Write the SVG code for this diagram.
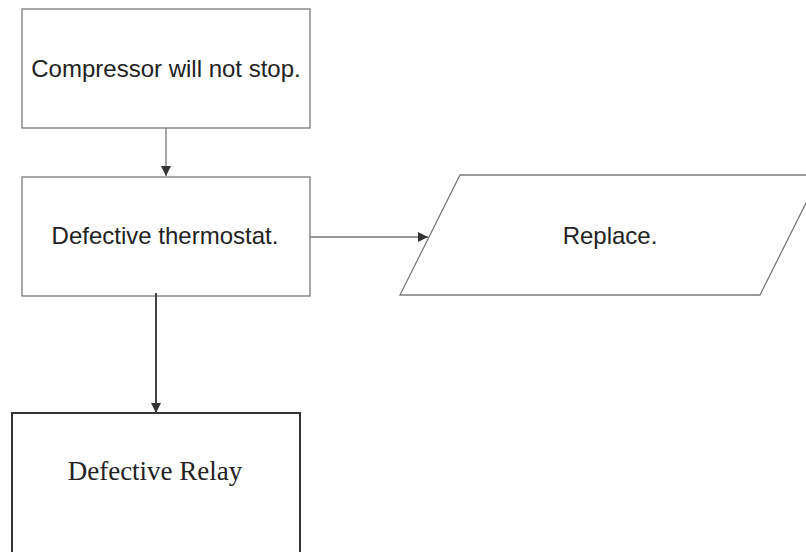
<svg xmlns="http://www.w3.org/2000/svg" width="806" height="552" viewBox="0 0 806 552">
<defs>
<style>
.box{fill:#fff;stroke:#7a7a7a;stroke-width:1.3}
.dark{fill:#fff;stroke:#333;stroke-width:2}
.lbl{font-family:"Liberation Sans",Arial,sans-serif;font-size:24px;fill:#222;text-anchor:middle}
.ser{font-family:"Liberation Serif","Times New Roman",serif;font-size:27px;fill:#222;text-anchor:middle}
.con{fill:none;stroke:#777;stroke-width:1.3}
.con2{fill:none;stroke:#444;stroke-width:2}
</style>
<marker id="ah" viewBox="0 0 10 10" refX="10" refY="5" markerWidth="12" markerHeight="10" markerUnits="userSpaceOnUse" orient="auto">
<path d="M0,0 L10,5 L0,10 Z" fill="#333"/>
</marker>
</defs>
<rect width="806" height="552" fill="#fff"/>
<g id="n1">
<rect class="box" x="22" y="9" width="288" height="119"/>
<text class="lbl" x="166" y="77">Compressor will not stop.</text>
</g>
<g id="n2">
<rect class="box" x="22" y="177" width="288" height="119"/>
<text class="lbl" x="165" y="244">Defective thermostat.</text>
</g>
<g id="n3">
<polygon class="box" points="460,175 820,175 760,295 400,295"/>
<text class="lbl" x="610" y="244">Replace.</text>
</g>
<g id="n4">
<rect class="dark" x="12" y="413" width="288" height="150"/>
<text class="ser" x="155" y="480">Defective Relay</text>
</g>
<g id="connectors">
<line class="con" x1="166" y1="128" x2="166" y2="176" marker-end="url(#ah)"/>
<line class="con" x1="310" y1="237" x2="428" y2="237" marker-end="url(#ah)"/>
<line class="con2" x1="156" y1="293" x2="156" y2="413" marker-end="url(#ah)"/>
</g>
</svg>
